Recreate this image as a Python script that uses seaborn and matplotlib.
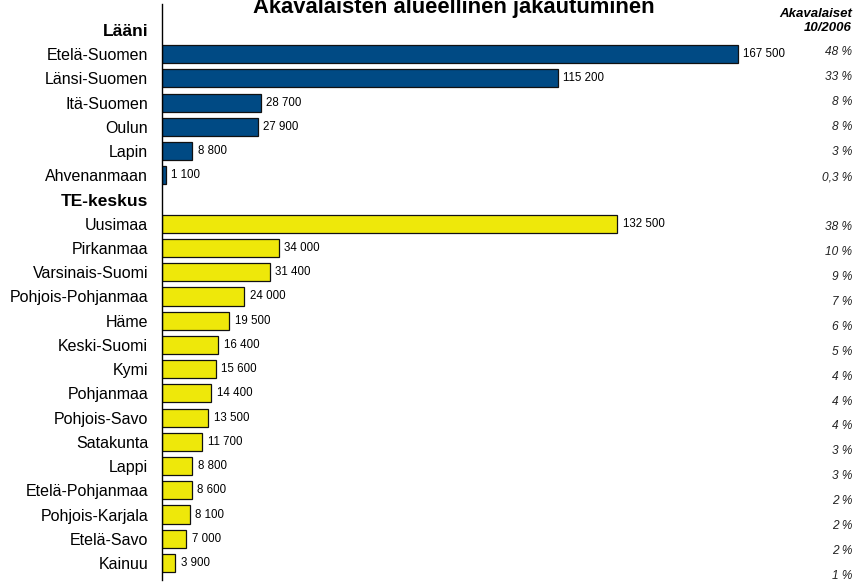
import numpy as np
import pandas as pd
import seaborn as sns
import matplotlib.pyplot as plt
from matplotlib.transforms import blended_transform_factory

# data
laani = ['Etelä-Suomen', 'Länsi-Suomen', 'Itä-Suomen', 'Oulun', 'Lapin', 'Ahvenanmaan']
laani_vals = [167500, 115200, 28700, 27900, 8800, 1100]
laani_pct = ['48 %', '33 %', '8 %', '8 %', '3 %', '0,3 %']

te = ['Uusimaa', 'Pirkanmaa', 'Varsinais-Suomi', 'Pohjois-Pohjanmaa', 'Häme',
      'Keski-Suomi', 'Kymi', 'Pohjanmaa', 'Pohjois-Savo', 'Satakunta', 'Lappi',
      'Etelä-Pohjanmaa', 'Pohjois-Karjala', 'Etelä-Savo', 'Kainuu']
te_vals = [132500, 34000, 31400, 24000, 19500, 16400, 15600, 14400, 13500,
           11700, 8800, 8600, 8100, 7000, 3900]
te_pct = ['38 %', '10 %', '9 %', '7 %', '6 %', '5 %', '4 %', '4 %', '4 %',
          '3 %', '3 %', '2 %', '2 %', '2 %', '1 %']

headers = ['Lääni', 'TE-keskus']
row_order = [headers[0]] + laani + [headers[1]] + te

df = pd.DataFrame({
    'alue': laani + te,
    'akavalaiset': laani_vals + te_vals,
    'ryhma': ['Lääni'] * len(laani) + ['TE-keskus'] * len(te),
})

sns.set_style('white')
plt.rcParams['font.family'] = ['Liberation Sans', 'DejaVu Sans']
plt.rcParams['text.color'] = 'black'
plt.rcParams['ytick.color'] = 'black'
plt.rcParams['axes.labelcolor'] = 'black'

fig = plt.figure(figsize=(8.55, 5.84), dpi=100)
ax = fig.add_axes([162 / 855, 4 / 584, 653 / 855, 576 / 584])

sns.barplot(data=df, x='akavalaiset', y='alue', hue='ryhma', order=row_order,
            palette={'Lääni': '#004a84', 'TE-keskus': '#eee80a'},
            saturation=1, dodge=False, width=0.75, edgecolor='#111111',
            linewidth=0.9, legend=False, ax=ax)

for cont in ax.containers:
    ax.bar_label(cont, fmt=lambda v: f'{v:,.0f}'.replace(',', ' '),
                 padding=4, fontsize=8.3, color='black')

ax.set_xlim(0, 190000)
ax.set_ylim(22.7, -1.07)
ax.set_xlabel('')
ax.set_ylabel('')
ax.set_xticks([])
ax.tick_params(axis='y', length=0, pad=10, labelsize=11.5, labelcolor='black')
for lab in ax.get_yticklabels():
    if lab.get_text() in headers:
        lab.set_fontweight('bold')
        lab.set_fontsize(12.5)

for s in ['top', 'right', 'bottom']:
    ax.spines[s].set_visible(False)
ax.spines['left'].set_color('black')
ax.spines['left'].set_linewidth(1)

# percentage column on the right
trans = blended_transform_factory(fig.transFigure, ax.transData)
pct_rows = [(row_order.index(n), p) for n, p in zip(laani + te, laani_pct + te_pct)]
for i, p in pct_rows:
    ax.text(852 / 855, i * 1.029 - 0.1, p, transform=trans, ha='right',
            va='center', fontsize=8.6, style='italic', color='#222222')

fig.text(852 / 855, 1 - 17 / 584, 'Akavalaiset', ha='right', va='baseline',
         fontsize=9.5, fontweight='bold', style='italic')
fig.text(852 / 855, 1 - 31 / 584, '10/2006', ha='right', va='baseline',
         fontsize=9.5, fontweight='bold', style='italic')

fig.text(454 / 855, 1 - 13 / 584, 'Akavalaisten alueellinen jakautuminen',
         ha='center', va='baseline', fontsize=15.8, fontweight='bold')

fig.savefig('out.png', dpi=100)
